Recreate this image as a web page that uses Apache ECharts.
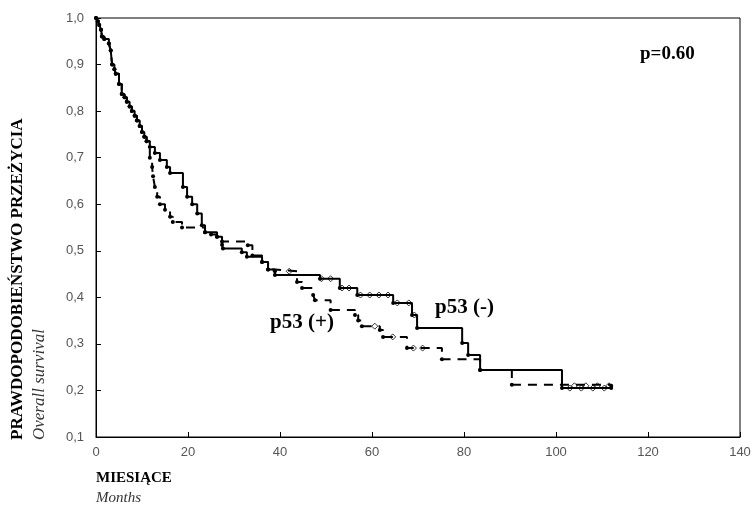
<!DOCTYPE html>
<html>
<head>
<meta charset="utf-8">
<script src="https://cdn.jsdelivr.net/npm/echarts@6/dist/echarts.min.js"></script>
<style>
html,body{margin:0;padding:0;background:#fff;}
#chart{width:754px;height:512px;}
</style>
</head>
<body>
<div id="chart"></div>
<script>
// Kaplan-Meier steps [miesiace, przezycie]
var early = [[0,1],[0.4,0.993],[0.7,0.985],[1.1,0.975],[1.3,0.96],[1.8,0.955],[2.8,0.945],[3.2,0.93],[3.5,0.9],[4,0.89],[4.3,0.88],[5,0.858],[5.6,0.837],[6.2,0.83],[6.7,0.82],[7.3,0.81],[7.8,0.8],[8.4,0.79],[8.9,0.78],[9.5,0.768],[10,0.755],[10.5,0.745],[11,0.735]];
var negSteps = [[11.7,0.723],[12.8,0.71],[13.9,0.695],[15.4,0.68],[16.1,0.667],[18.9,0.637],[19.8,0.616],[20.9,0.6],[22,0.58],[23,0.555],[23.7,0.54],[26.3,0.53],[27.4,0.513],[27.6,0.505],[31.7,0.497],[32.8,0.487],[36.1,0.476],[37.4,0.46],[38.9,0.448],[48.7,0.44],[53,0.42],[56.8,0.405],[64.6,0.388],[68.7,0.362],[69.8,0.334],[79.6,0.302],[80.9,0.276],[83.5,0.244],[101.3,0.205],[112,0.205]];
var posSteps = [[11.7,0.70],[12.2,0.68],[12.4,0.66],[12.8,0.637],[13.3,0.616],[13.9,0.6],[15,0.588],[16.1,0.573],[16.7,0.562],[18.7,0.55],[23.7,0.54],[25,0.535],[26.3,0.53],[27.4,0.52],[33,0.512],[34,0.49],[36.1,0.476],[37.4,0.46],[38.9,0.456],[43.7,0.433],[44.8,0.42],[47.2,0.405],[47.6,0.394],[51,0.373],[56.3,0.362],[57,0.35],[57.8,0.338],[61.7,0.33],[62.4,0.315],[67.6,0.291],[75.2,0.267],[83.5,0.244],[90.4,0.212],[112,0.21]];
// obserwacje ucięte
var censNeg = [[49,0.44],[51,0.44],[53.5,0.42],[55,0.42],[57.5,0.405],[59.5,0.405],[61.5,0.405],[63.5,0.405],[65.5,0.388],[68,0.388],[69.2,0.362],[103,0.205],[105.5,0.205],[108,0.205],[110.5,0.205]];
var censPos = [[42,0.456],[60.6,0.338],[64.5,0.315],[69,0.291],[71,0.291],[104,0.21],[106.5,0.21],[109,0.21],[111.5,0.21]];
var xTicks = [0,20,40,60,80,100,120,140];
var yTicks = [0.1,0.2,0.3,0.4,0.5,0.6,0.7,0.8,0.9,1.0];

var chart = echarts.init(document.getElementById('chart'));
var serif = '"Liberation Serif","DejaVu Serif",serif';
var sans = '"Liberation Sans","DejaVu Sans",sans-serif';

var option = {
    animation:false,
    backgroundColor:'#fff',
    grid:{
        left:96,
        right:14,
        top:18,
        bottom:75,
        show:true,
        borderColor:'#000',
        borderWidth:1
    },
    xAxis:{
        type:'value',
        min:xTicks[0],
        max:xTicks[xTicks.length-1],
        interval:20,
        axisLine:{lineStyle:{color:'#000',width:1}},
        axisTick:{inside:true,length:5,lineStyle:{color:'#000'}},
        axisLabel:{color:'#555',fontSize:13,fontFamily:sans,margin:9},
        splitLine:{show:false}
    },
    yAxis:{
        type:'value',
        min:yTicks[0],
        max:yTicks[yTicks.length-1],
        interval:0.1,
        axisLine:{show:true,lineStyle:{color:'#000',width:1}},
        axisTick:{show:true,inside:true,length:5,lineStyle:{color:'#000'}},
        axisLabel:{
            color:'#555',fontSize:13,fontFamily:sans,margin:12,
            formatter:function(v){return v.toFixed(1).replace('.',',');}
        },
        splitLine:{show:false}
    },
    series:[{
        name:'p53 (-)',
        type:'line',
        step:'end',
        data:early.concat(negSteps),
        symbol:'circle',
        symbolSize:4,
        showAllSymbol:true,
        itemStyle:{color:'#000'},
        lineStyle:{color:'#000',width:2}
    },{
        name:'p53 (+)',
        type:'line',
        step:'end',
        data:early.concat(posSteps),
        symbol:'circle',
        symbolSize:4,
        showAllSymbol:true,
        itemStyle:{color:'#000'},
        lineStyle:{color:'#000',width:2,type:[9,7]}
    },{
        type:'scatter',
        data:censNeg,
        symbol:'diamond',
        symbolSize:6,
        itemStyle:{color:'#fff',borderColor:'#000',borderWidth:1}
    },{
        type:'scatter',
        data:censPos,
        symbol:'diamond',
        symbolSize:6,
        itemStyle:{color:'#fff',borderColor:'#000',borderWidth:1}
    }],
    graphic:[{
        type:'text',
        left:640,top:45,
        style:{text:'p=0.60',font:'bold 19px '+serif,fill:'#000'}
    },{
        type:'text',
        left:270,top:312,
        style:{text:'p53 (+)',font:'bold 21px '+serif,fill:'#000'}
    },{
        type:'text',
        left:435,top:297,
        style:{text:'p53 (-)',font:'bold 21px '+serif,fill:'#000'}
    },{
        type:'text',
        x:26,y:440,rotation:Math.PI/2,
        style:{text:'PRAWDOPODOBIEŃSTWO PRZEŻYCIA',font:'bold 17px '+serif,fill:'#000',textAlign:'left',textVerticalAlign:'bottom'}
    },{
        type:'text',
        x:48,y:440,rotation:Math.PI/2,
        style:{text:'Overall survival',font:'italic 17px '+serif,fill:'#333',textAlign:'left',textVerticalAlign:'bottom'}
    },{
        type:'text',
        left:96,top:471,
        style:{text:'MIESIĄCE',font:'bold 15px '+serif,fill:'#000'}
    },{
        type:'text',
        left:96,top:491,
        style:{text:'Months',font:'italic 15px '+serif,fill:'#333'}
    }]
};
chart.setOption(option);
</script>
</body>
</html>
